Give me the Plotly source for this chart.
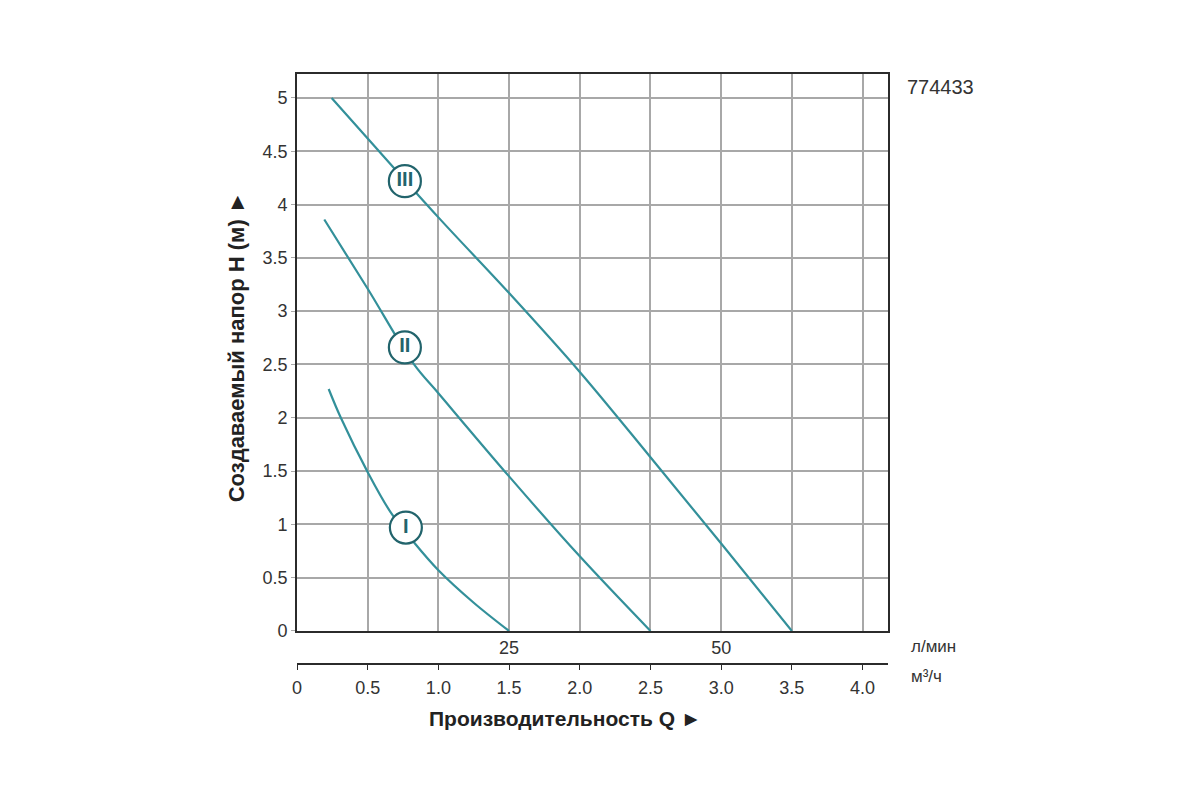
import plotly.graph_objects as go

# Q-H curves of the pump, flow in m3/h, head in metres
Q_I = [0.224, 0.31, 0.5, 0.664, 0.828, 1.0, 1.25, 1.5]
H_I = [2.27, 2.0, 1.49, 1.11, 0.83, 0.57, 0.265, 0.0]

Q_II = [0.193, 0.5, 0.828, 1.0, 1.5, 2.0, 2.5]
H_II = [3.86, 3.21, 2.50, 2.23, 1.45, 0.70, 0.0]

Q_III = [0.245, 0.5, 1.0, 1.5, 2.0, 2.5, 3.0, 3.5]
H_III = [5.0, 4.62, 3.88, 3.17, 2.43, 1.63, 0.82, 0.0]

# speed labels in circles
LABEL_TEXT = ["I", "II", "III"]
LABEL_Q = [0.77, 0.763, 0.763]
LABEL_H = [0.97, 2.66, 4.22]

# axis ticks
H_TICKS = [0, 0.5, 1, 1.5, 2, 2.5, 3, 3.5, 4, 4.5, 5]
H_TICKTEXT = ["0", "0.5", "1", "1.5", "2", "2.5", "3", "3.5", "4", "4.5", "5"]
M3H_TICKS = [0, 0.5, 1.0, 1.5, 2.0, 2.5, 3.0, 3.5, 4.0]
M3H_TICKTEXT = ["0", "0.5", "1.0", "1.5", "2.0", "2.5", "3.0", "3.5", "4.0"]
LPM_TICKS = [25, 50]

LINE_COLOR = "#33909a"
RING_COLOR = "#22646c"
GRID_COLOR = "#a8a8a8"
FRAME_COLOR = "#2b2b2b"
TEXT_COLOR = "#333333"
FONT = "Liberation Sans, Arial, sans-serif"

X_MAX = 4.18
Y_MAX = 5.225

fig = go.Figure()

for q, h in [(Q_I, H_I), (Q_II, H_II), (Q_III, H_III)]:
    fig.add_trace(go.Scatter(
        x=q, y=h, mode="lines",
        line=dict(color=LINE_COLOR, width=2.2, shape="spline", smoothing=1.0),
        hoverinfo="skip", showlegend=False,
    ))

fig.add_trace(go.Scatter(
    x=LABEL_Q, y=LABEL_H, mode="markers+text",
    text=["<b>%s</b>" % t for t in LABEL_TEXT], textposition="middle center",
    textfont=dict(family=FONT, size=20, color=RING_COLOR),
    marker=dict(size=32, color="white", line=dict(color=RING_COLOR, width=2.2)),
    hoverinfo="skip", showlegend=False,
))

# invisible trace so the m3/h scale is drawn
fig.add_trace(go.Scatter(
    x=M3H_TICKS, y=[0] * len(M3H_TICKS), xaxis="x2", mode="markers",
    marker=dict(opacity=0), hoverinfo="skip", showlegend=False,
))

fig.update_layout(
    width=1200, height=800,
    paper_bgcolor="white", plot_bgcolor="white",
    margin=dict(l=289, r=320, t=66, b=144),
    font=dict(family=FONT, size=18, color=TEXT_COLOR),
    showlegend=False,
    xaxis=dict(
        range=[0, X_MAX],
        tickvals=[v * 60 / 1000 for v in LPM_TICKS],
        ticktext=[str(v) for v in LPM_TICKS],
        ticks="",
        showgrid=True, gridcolor=GRID_COLOR, gridwidth=1.5,
        minor=dict(tick0=0, dtick=0.5, showgrid=True, gridcolor=GRID_COLOR, gridwidth=1.5, ticks=""),
        showline=True, linecolor=FRAME_COLOR, linewidth=1.6, mirror=True,
        zeroline=False,
        tickfont=dict(size=18, color=TEXT_COLOR),
        anchor="y",
    ),
    xaxis2=dict(
        overlaying="x", anchor="free", position=0, side="bottom",
        range=[0, X_MAX],
        tickvals=M3H_TICKS, ticktext=M3H_TICKTEXT,
        ticks="outside", ticklen=5, tickcolor=FRAME_COLOR,
        ticklabelstandoff=3,
        showgrid=False, zeroline=False,
        showline=True, linecolor=FRAME_COLOR, linewidth=1.5,
        tickfont=dict(size=18, color=TEXT_COLOR),
    ),
    yaxis=dict(
        domain=[0.056, 1],
        range=[0, Y_MAX],
        tickvals=H_TICKS, ticktext=H_TICKTEXT,
        ticks="outside", ticklen=4, tickcolor=GRID_COLOR,
        showgrid=True, gridcolor=GRID_COLOR, gridwidth=1.5,
        showline=True, linecolor=FRAME_COLOR, linewidth=1.6, mirror=True,
        zeroline=False,
        tickfont=dict(size=18, color=TEXT_COLOR),
    ),
)

fig.add_annotation(
    text="<b>Создаваемый напор H (м) ►</b>", textangle=-90,
    xref="paper", yref="paper", x=-0.103, y=0.537,
    xanchor="center", yanchor="middle",
    showarrow=False, font=dict(family=FONT, size=22, color="#222222"),
)
fig.add_annotation(
    text="<b>Производительность Q ►</b>",
    xref="paper", yref="paper", x=0.455, y=-0.092,
    xanchor="center", yanchor="middle",
    showarrow=False, font=dict(family=FONT, size=21, color="#222222"),
)
fig.add_annotation(
    text="л/мин", xref="paper", yref="paper", x=1.035, y=0.0305,
    xanchor="left", yanchor="middle", showarrow=False,
    font=dict(size=17, color=TEXT_COLOR),
)
fig.add_annotation(
    text="м³/ч", xref="paper", yref="paper", x=1.035, y=-0.022,
    xanchor="left", yanchor="middle", showarrow=False,
    font=dict(size=17, color=TEXT_COLOR),
)
fig.add_annotation(
    text="774433", xref="paper", yref="paper", x=1.028, y=0.978,
    xanchor="left", yanchor="middle", showarrow=False,
    font=dict(size=20, color=TEXT_COLOR),
)

fig.write_html("out.html")
